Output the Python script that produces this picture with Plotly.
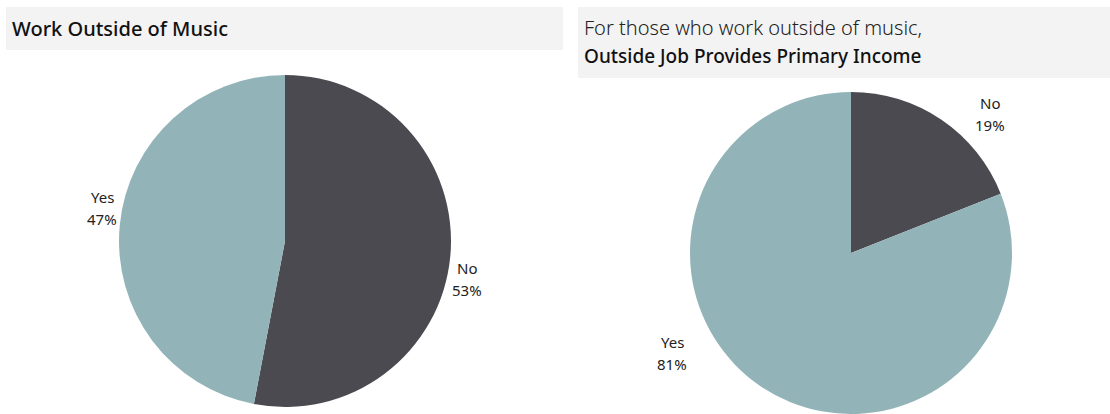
import plotly.graph_objects as go

W, H = 1110, 414

# Survey answers
answers = ["No", "Yes"]
work_outside_pct = [53, 47]
primary_income_pct = [19, 81]

colors = {"No": "#4B4A50", "Yes": "#92B4B8"}
FONT = "Noto Sans"


def px_x(x):
    return x / W


def px_y(y):
    return 1 - y / H


def domain(cx, cy, r):
    return dict(x=[px_x(cx - r), px_x(cx + r)],
                y=[max(0, px_y(cy + r)), min(1, px_y(cy - r))])


fig = go.Figure()

fig.add_trace(go.Pie(
    labels=answers, values=work_outside_pct,
    marker=dict(colors=[colors[a] for a in answers], line=dict(width=0)),
    sort=False, direction="clockwise", rotation=0,
    textinfo="none", hoverinfo="label+percent",
    domain=domain(285, 241, 166), showlegend=False,
))

fig.add_trace(go.Pie(
    labels=answers, values=primary_income_pct,
    marker=dict(colors=[colors[a] for a in answers], line=dict(width=0)),
    sort=False, direction="clockwise", rotation=0,
    textinfo="none", hoverinfo="label+percent",
    domain=domain(851, 253, 161), showlegend=False,
))

# Title bands
fig.add_shape(type="rect", xref="paper", yref="paper",
              x0=px_x(6), x1=px_x(563), y0=px_y(50), y1=px_y(7),
              fillcolor="#F3F3F3", line=dict(width=0), layer="below")
fig.add_shape(type="rect", xref="paper", yref="paper",
              x0=px_x(578), x1=1, y0=px_y(78), y1=px_y(7),
              fillcolor="#F3F3F3", line=dict(width=0), layer="below")

annotations = [
    dict(x=px_x(10), y=px_y(29), text="Work Outside of Music", xanchor="left",
         font=dict(size=20, weight=500, color="#111")),
    dict(x=px_x(582), y=px_y(28), text="For those who work outside of music,",
         xanchor="left", font=dict(size=20, weight=300, color="#222")),
    dict(x=px_x(582), y=px_y(56), text="Outside Job Provides Primary Income",
         xanchor="left", font=dict(size=19, weight=500, color="#111")),
]

# Slice labels: (category line centre, percentage line centre)
label_pos = [
    (work_outside_pct, [(467, 268, 290), (102, 197, 219)]),
    (primary_income_pct, [(990, 103, 125), (672, 342, 364)]),
]
for vals, positions in label_pos:
    for name, v, (lx, ly1, ly2) in zip(answers, vals, positions):
        for txt, ly in ((name, ly1), (f"{v}%", ly2)):
            annotations.append(dict(
                x=px_x(lx), y=px_y(ly), text=txt,
                xanchor="center", yanchor="middle", align="center",
                font=dict(size=15, color="#222"),
            ))

for a in annotations:
    a.setdefault("xref", "paper")
    a.setdefault("yref", "paper")
    a.setdefault("showarrow", False)
    a.setdefault("yanchor", "middle")

fig.update_layout(
    width=W, height=H,
    margin=dict(l=0, r=0, t=0, b=0),
    paper_bgcolor="white", plot_bgcolor="white",
    font=dict(family=FONT),
    annotations=annotations,
)

fig.write_html("out.html")
